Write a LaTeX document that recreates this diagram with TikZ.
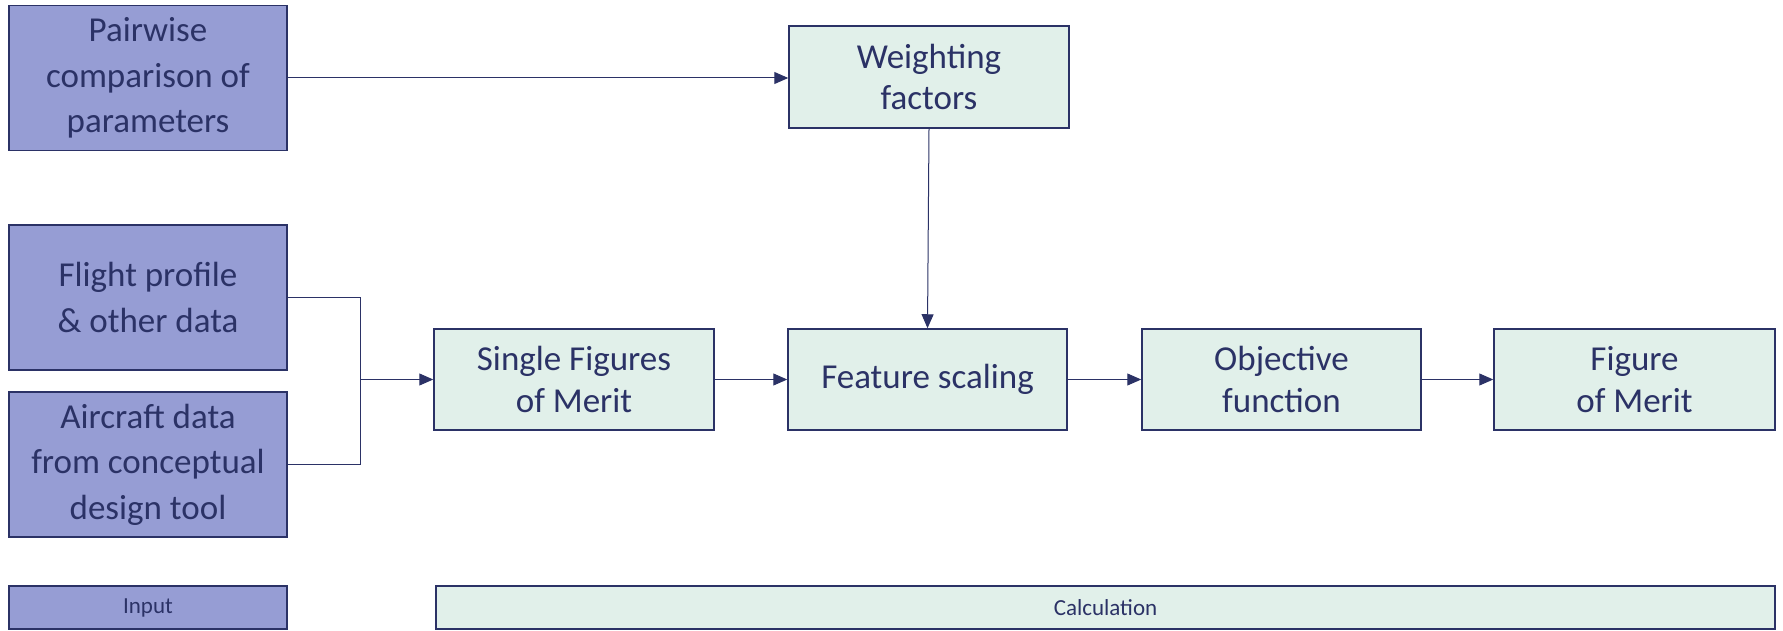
\documentclass[tikz,border=0pt]{standalone}
\usepackage{fontspec}
\setmainfont{Carlito}
\usetikzlibrary{arrows.meta}
\definecolor{navy}{HTML}{2B3266}
\definecolor{inputfill}{HTML}{969DD4}
\definecolor{calcfill}{HTML}{E1F0EA}
\begin{document}
\begin{tikzpicture}[x=1pt,y=-1pt,
  box/.style={draw=navy,line width=1.5pt,text=navy,align=center,inner sep=0pt},
  inbox/.style={box,fill=inputfill,font=\fontsize{35}{45.5}\selectfont},
  calcbox/.style={box,fill=calcfill,font=\fontsize{35}{41.5}\selectfont},
  small/.style={font=\fontsize{23}{27}\selectfont},
  conn/.style={draw=navy,line width=1pt,-{Triangle[length=14pt,width=12pt]}},
  plain/.style={draw=navy,line width=1pt}]
\useasboundingbox (0,0) rectangle (1783,631);
\node[inbox,minimum width=278pt,minimum height=145pt] (pw) at (148,78) {Pairwise\\comparison of\\parameters};
\node[calcbox,minimum width=280pt,minimum height=102pt] (wf) at (929,77) {Weighting\\factors};
\node[inbox,minimum width=278pt,minimum height=145pt] (fp) at (148,297.5) {Flight profile\\\& other data};
\node[inbox,minimum width=278pt,minimum height=145pt] (ac) at (148,464.5) {Aircraft data\\from conceptual\\design tool};
\node[calcbox,minimum width=280pt,minimum height=101pt] (sf) at (574,379.5) {Single Figures\\of Merit};
\node[calcbox,minimum width=279pt,minimum height=101pt] (fs) at (927.5,379.5) {Feature scaling};
\node[calcbox,minimum width=279pt,minimum height=101pt] (of) at (1281.5,379.5) {Objective\\function};
\node[calcbox,minimum width=281pt,minimum height=101pt] (fm) at (1634.5,379.5) {Figure\\of Merit};
\node[inbox,small,minimum width=278pt,minimum height=43pt] (in) at (148,607.5) {Input};
\node[calcbox,small,minimum width=1339pt,minimum height=43pt] (ca) at (1105.5,607.5) {Calculation};
\coordinate (j) at (360,379.5);
\draw[conn] (pw.east) -- (pw.east -| wf.west);
\draw[conn] (wf.south) -- (fs.north);
\draw[plain] (fp.east) -| (j);
\draw[plain] (ac.east) -| (j);
\draw[conn] (j) -- (sf.west);
\draw[conn] (sf.east) -- (fs.west);
\draw[conn] (fs.east) -- (of.west);
\draw[conn] (of.east) -- (fm.west);
\end{tikzpicture}
\end{document}
